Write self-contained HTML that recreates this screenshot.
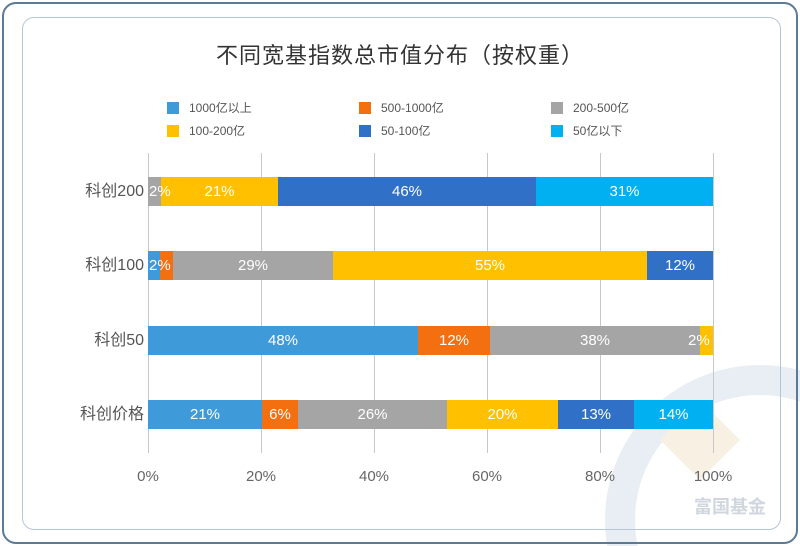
<!DOCTYPE html>
<html><head><meta charset="utf-8"><style>
html,body{margin:0;width:800px;height:546px;overflow:hidden}
body{background:#fff;font-family:"Liberation Sans","Noto Sans CJK SC",sans-serif;position:relative}
*{box-sizing:border-box}
.abs{position:absolute}
.seg{position:absolute;height:29px;color:#fff;font-size:15px;line-height:29px;text-align:center;overflow:hidden;white-space:nowrap}
.cat{position:absolute;right:656px;font-size:16px;color:#555;line-height:29px;text-align:right;white-space:nowrap}
.tick{position:absolute;top:468px;font-size:15px;color:#666;width:60px;text-align:center;line-height:18px}
.lg{position:absolute;font-size:12px;color:#555;line-height:14px}
.lg i{display:inline-block;width:12px;height:12px;vertical-align:-2px;margin-right:10px}
.grid{position:absolute;top:153px;width:1px;background:#c8c8c8;height:300px}
.lbl{position:absolute;color:#fff;font-size:15px;line-height:29px}
</style></head><body>
<svg class="abs" style="left:0;top:0;overflow:hidden;display:block" width="800" height="546" viewBox="0 0 800 546">
<circle cx="760" cy="520" r="140" fill="none" stroke="#e9eef4" stroke-width="30"/>
<path d="M700 400 L740 440 L700 480 L660 440Z" fill="#f7f0e3"/>
</svg>
<div class="abs" style="left:2px;top:2px;width:796px;height:542px;border:2px solid #5a7a96;border-radius:14px"></div>
<div class="abs" style="left:22px;top:17px;width:759px;height:513px;border:1px solid #b7c6d6;border-radius:12px"></div>
<div class="abs" style="left:0;width:800px;top:40px;text-align:center;font-size:22px;line-height:32px;color:#333;letter-spacing:1px">不同宽基指数总市值分布（按权重）</div>
<div class="lg" style="left:167px;top:101px"><i style="background:#3e9ad8"></i>1000亿以上</div>
<div class="lg" style="left:359px;top:101px"><i style="background:#f36f10"></i>500-1000亿</div>
<div class="lg" style="left:551px;top:101px"><i style="background:#a5a5a5"></i>200-500亿</div>
<div class="lg" style="left:167px;top:124px"><i style="background:#ffc000"></i>100-200亿</div>
<div class="lg" style="left:359px;top:124px"><i style="background:#3070c6"></i>50-100亿</div>
<div class="lg" style="left:551px;top:124px"><i style="background:#00b0f0"></i>50亿以下</div>
<div class="grid" style="left:148px"></div><div class="grid" style="left:261px"></div><div class="grid" style="left:374px"></div><div class="grid" style="left:487px"></div><div class="grid" style="left:600px"></div><div class="grid" style="left:713px"></div>
<div class="cat" style="top:177px">科创200</div>
<div class="seg" style="top:177px;left:148px;width:13px;background:#a5a5a5"></div>
<div class="seg" style="top:177px;left:161px;width:117px;background:#ffc000">21%</div>
<div class="seg" style="top:177px;left:278px;width:258px;background:#3070c6">46%</div>
<div class="seg" style="top:177px;left:536px;width:177px;background:#00b0f0">31%</div>
<div class="lbl" style="top:177px;left:149px">2%</div>
<div class="cat" style="top:251px">科创100</div>
<div class="seg" style="top:251px;left:148px;width:12px;background:#3e9ad8"></div>
<div class="seg" style="top:251px;left:160px;width:13px;background:#f36f10"></div>
<div class="seg" style="top:251px;left:173px;width:160px;background:#a5a5a5">29%</div>
<div class="seg" style="top:251px;left:333px;width:314px;background:#ffc000">55%</div>
<div class="seg" style="top:251px;left:647px;width:66px;background:#3070c6">12%</div>
<div class="lbl" style="top:251px;left:149px">2%</div>
<div class="cat" style="top:326px">科创50</div>
<div class="seg" style="top:326px;left:148px;width:270px;background:#3e9ad8">48%</div>
<div class="seg" style="top:326px;left:418px;width:72px;background:#f36f10">12%</div>
<div class="seg" style="top:326px;left:490px;width:210px;background:#a5a5a5">38%</div>
<div class="seg" style="top:326px;left:700px;width:13px;background:#ffc000"></div>
<div class="lbl" style="top:326px;left:688px">2%</div>
<div class="cat" style="top:400px">科创价格</div>
<div class="seg" style="top:400px;left:148px;width:114px;background:#3e9ad8">21%</div>
<div class="seg" style="top:400px;left:262px;width:36px;background:#f36f10">6%</div>
<div class="seg" style="top:400px;left:298px;width:149px;background:#a5a5a5">26%</div>
<div class="seg" style="top:400px;left:447px;width:111px;background:#ffc000">20%</div>
<div class="seg" style="top:400px;left:558px;width:76px;background:#3070c6">13%</div>
<div class="seg" style="top:400px;left:634px;width:79px;background:#00b0f0">14%</div>
<div class="tick" style="left:118px">0%</div><div class="tick" style="left:231px">20%</div><div class="tick" style="left:344px">40%</div><div class="tick" style="left:457px">60%</div><div class="tick" style="left:570px">80%</div><div class="tick" style="left:683px">100%</div>
<div class="abs" style="left:694px;top:495px;font-size:18px;line-height:24px;color:#cfd6de;font-weight:bold">富国基金</div>
</body></html>
